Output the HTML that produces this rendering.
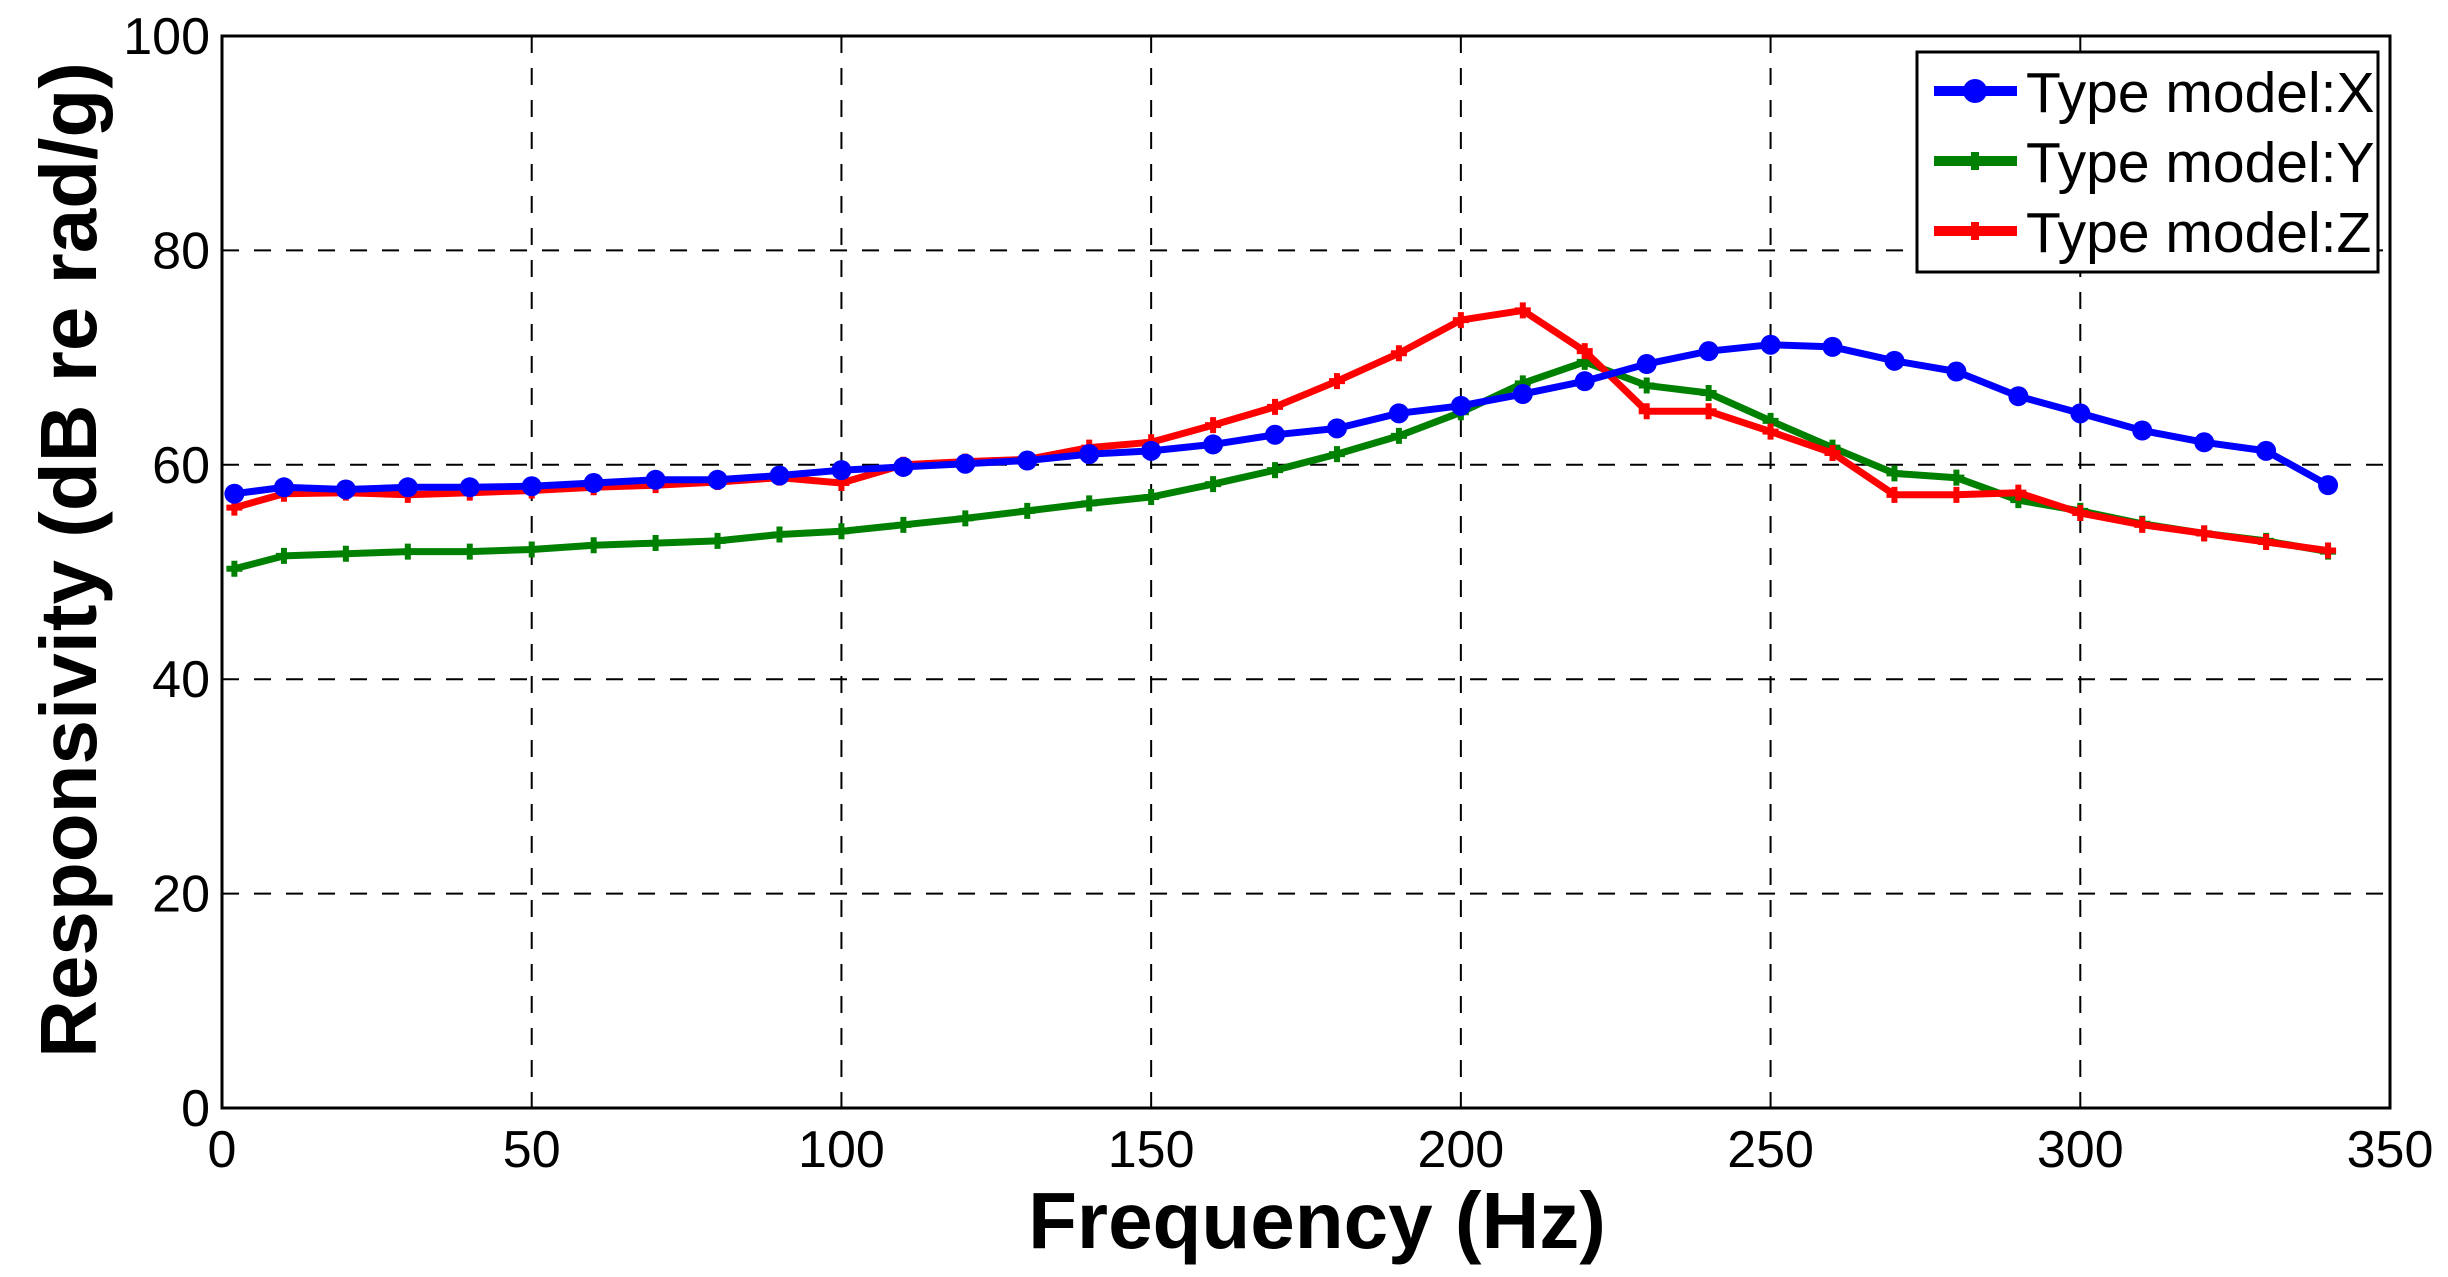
<!DOCTYPE html>
<html><head><meta charset="utf-8"><style>
html,body{margin:0;padding:0;background:#fff;width:2448px;height:1277px;overflow:hidden}
svg text{font-family:"Liberation Sans",Arial,sans-serif}
</style></head><body>
<svg id="s" width="2448" height="1277" xmlns="http://www.w3.org/2000/svg"></svg>
<script>
const s=document.getElementById('s');
const L=222,R=2390,T=36,B=1108;
const px=f=>L+f*(R-L)/350, py=v=>B-v*(B-T)/100;
let h='<rect x="0" y="0" width="2448" height="1277" fill="#fff"/>';
for(let f=50;f<350;f+=50)h+=`<line x1="${px(f)}" y1="${T}" x2="${px(f)}" y2="${B}" stroke="#000" stroke-width="2" stroke-dasharray="17,15"/>`;
for(let v=20;v<100;v+=20)h+=`<line x1="${L}" y1="${py(v)}" x2="${R}" y2="${py(v)}" stroke="#000" stroke-width="2" stroke-dasharray="17,15"/>`;
h+=`<rect x="${L}" y="${T}" width="${R-L}" height="${B-T}" fill="none" stroke="#000" stroke-width="3"/>`;
for(let f=0;f<=350;f+=50)h+=`<text x="${px(f)}" y="1167" font-size="52" text-anchor="middle">${f}</text>`;
for(let v=0;v<=100;v+=20)h+=`<text x="${L-12}" y="${py(v)+18}" font-size="52" text-anchor="end">${v}</text>`;
h+=`<text x="1317" y="1248" font-size="80" font-weight="bold" text-anchor="middle">Frequency (Hz)</text>`;
h+=`<text transform="translate(96,560) rotate(-90)" font-size="80" font-weight="bold" text-anchor="middle">Responsivity (dB re rad/g)</text>`;
const fr=[2];for(let f=10;f<=340;f+=10)fr.push(f);
const X=[57.3,57.9,57.7,57.9,57.9,58,58.3,58.6,58.6,59,59.5,59.8,60.1,60.4,61,61.3,61.9,62.8,63.4,64.8,65.5,66.6,67.8,69.4,70.6,71.2,71,69.7,68.7,66.4,64.8,63.2,62.1,61.3,58.1];
const Y=[50.3,51.5,51.7,51.9,51.9,52.1,52.5,52.7,52.9,53.5,53.8,54.4,55,55.7,56.4,57,58.2,59.5,61,62.7,64.9,67.6,69.6,67.4,66.7,64.1,61.6,59.2,58.8,56.7,55.7,54.5,53.6,52.9,51.9];
const Z=[56,57.3,57.4,57.2,57.4,57.6,57.9,58.1,58.4,58.8,58.3,60,60.3,60.5,61.6,62.1,63.7,65.4,67.8,70.4,73.5,74.4,70.6,65,65,63.1,61.1,57.2,57.2,57.4,55.5,54.4,53.6,52.8,52];
function ser(d,c,circ){let p=d.map((v,i)=>px(fr[i]).toFixed(1)+','+py(v).toFixed(1)).join(' ');
let o=`<polyline points="${p}" fill="none" stroke="${c}" stroke-width="7" stroke-linejoin="round"/>`;
d.forEach((v,i)=>{const x=px(fr[i]),y=py(v);o+=circ?`<circle cx="${x}" cy="${y}" r="10" fill="${c}"/>`:`<path d="M${x-8} ${y}H${x+8}M${x} ${y-8}V${y+8}" stroke="${c}" stroke-width="6"/>`;});return o;}
h+=ser(Y,'#008000',0)+ser(Z,'#ff0000',0)+ser(X,'#0000ff',1);
h+=`<rect x="1917" y="52" width="461" height="220" fill="#fff" stroke="#000" stroke-width="3"/>`;
[['#0000ff',1,'X',91],['#008000',0,'Y',161],['#ff0000',0,'Z',231]].forEach(([c,ci,n,y])=>{
h+=`<line x1="1934" y1="${y}" x2="2017" y2="${y}" stroke="${c}" stroke-width="10"/>`;
h+=ci?`<circle cx="1975" cy="${y}" r="12" fill="${c}"/>`:`<path d="M1975 ${y-9}V${y+9}" stroke="${c}" stroke-width="8"/>`;
h+=`<text x="2026" y="${y+21}" font-size="57">Type model:${n}</text>`;});
s.innerHTML=h;
</script>
</body></html>
